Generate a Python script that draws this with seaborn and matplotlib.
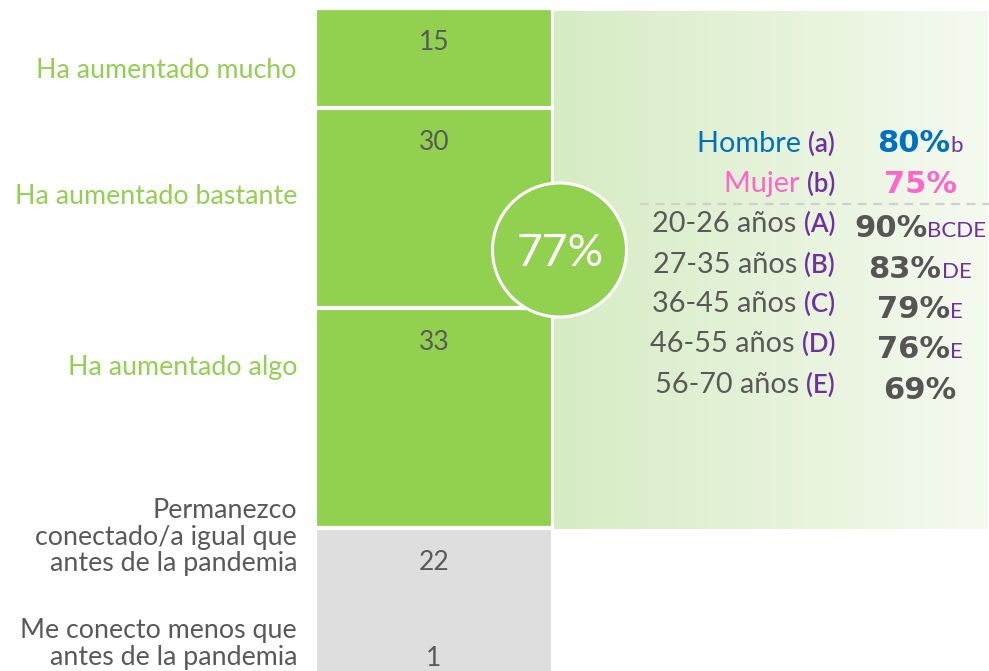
import numpy as np
import pandas as pd
import matplotlib
matplotlib.use("Agg")
import matplotlib.pyplot as plt
from matplotlib.patches import Circle
import seaborn as sns

# ---------------- data ----------------
categories = ["Ha aumentado mucho", "Ha aumentado bastante", "Ha aumentado algo",
              "Permanezco\nconectado/a igual que\nantes de la pandemia",
              "Me conecto menos que\nantes de la pandemia"]
values = [15, 30, 33, 22, 1]
total_increase = "77%"

group_labels = ["Hombre", "Mujer", "20-26 años", "27-35 años", "36-45 años", "46-55 años", "56-70 años"]
group_codes = ["(a)", "(b)", "(A)", "(B)", "(C)", "(D)", "(E)"]
group_pcts = ["80%", "75%", "90%", "83%", "79%", "76%", "69%"]
group_sig = ["b", "", "BCDE", "DE", "E", "E", ""]

# ---------------- style ----------------
sns.set_theme(style="white")
plt.rcParams['font.family'] = ['Lato', 'DejaVu Sans']

GREEN = "#92d050"
GREY_BAR = "#dedede"
GREY_TXT = "#595959"
PURPLE = "#7030a0"
BLUE = "#0070c0"
PINK = "#ff66cc"
seg_colors = [GREEN, GREEN, GREEN, GREY_BAR, GREY_BAR]
label_colors = [GREEN, GREEN, GREEN, GREY_TXT, GREY_TXT]

W, H = 989, 671
fig = plt.figure(figsize=(W / 100, H / 100), dpi=100)

# background axes (pixel coordinates) with gradient panel
bg = fig.add_axes([0, 0, 1, 1], zorder=0)
bg.set_xlim(0, W); bg.set_ylim(H, 0); bg.axis("off")
grad = np.linspace(0, 1, 256)[None, :, None]
c0 = np.array([214, 236, 196]) / 255
c1 = np.array([245, 250, 240]) / 255
img = c0 + (c1 - c0) * grad
bg.imshow(img, extent=[554, 988, 529, 11], aspect="auto", zorder=0)
bg.set_xlim(0, W); bg.set_ylim(H, 0)

# bar axes
top_px = 8
scale = 6.667  # pixels per unit
bx = fig.add_axes([315 / W, 0, 238 / W, 1], zorder=1)
bx.patch.set_alpha(0)
cum = np.cumsum(values)
df = pd.DataFrame({"cat": categories, "val": values, "end": cum})
for i in range(len(values) - 1, -1, -1):
    sns.barplot(x=["s"], y=[df["end"][i]], color=seg_colors[i], saturation=1,
                width=1, edgecolor="white", linewidth=3, ax=bx)
bx.set_xlim(-0.5, 0.5)
bx.set_ylim((H - top_px) / scale, -top_px / scale)
bx.axis("off")
starts = cum - np.array(values)
ymax_vis = (H - top_px) / scale
for i, v in enumerate(values):
    ly = starts[i] + 5.2
    if ly > ymax_vis - 1:
        ly = ymax_vis - 1.8
    bx.text(0, ly, str(v), ha="center", va="center", fontsize=19, color=GREY_TXT)

# overlay axes in pixel coordinates
ov = fig.add_axes([0, 0, 1, 1], zorder=2)
ov.patch.set_alpha(0)
ov.set_xlim(0, W); ov.set_ylim(H, 0); ov.axis("off")

# category labels
label_y = [71, 196, 367, 537, 644]
for lab, y, col in zip(categories, label_y, label_colors):
    ov.text(297, y, lab, ha="right", va="center", fontsize=19.3, color=col,
            linespacing=1.1)

# circle
ov.add_patch(Circle((559.5, 250), 67, facecolor=GREEN, edgecolor="white", lw=2.2, zorder=5))
ov.text(560, 253, total_increase, ha="center", va="center", fontsize=32,
        color="white", fontweight="normal", zorder=6)

# dashed separator
ov.plot([640, 989], [204, 204], ls=(0, (4, 3)), color="#d0d0d0", lw=1.6, zorder=3)

fig.canvas.draw()
renderer = fig.canvas.get_renderer()


def rich(x, y, parts, ha):
    texts, widths = [], []
    for s, kw in parts:
        if not s:
            continue
        t = ov.text(0, y, s, ha="left", va="baseline", zorder=6, **kw)
        widths.append(t.get_window_extent(renderer).width)
        texts.append(t)
    total = sum(widths)
    start = x - total if ha == "right" else (x - total / 2 if ha == "center" else x)
    for t, w in zip(texts, widths):
        t.set_x(start)
        start += w


label_base = [152, 192, 232, 273, 312, 352, 393]
pct_base = [152, 193, 237, 278, 318, 358, 399]
label_cols = [BLUE, PINK] + [GREY_TXT] * 5
pct_cols = [BLUE, PINK] + ["#555555"] * 5
for i in range(len(group_labels)):
    rich(835, label_base[i],
         [(group_labels[i] + " ", dict(fontsize=20.8, color=label_cols[i])),
          (group_codes[i], dict(fontsize=18.5, color=PURPLE, fontweight="semibold"))], "right")
    rich(920, pct_base[i],
         [(group_pcts[i], dict(fontsize=22, color=pct_cols[i], fontweight="bold",
                               family="DejaVu Sans")),
          (group_sig[i], dict(fontsize=16, color=PURPLE))], "center")

fig.savefig("out.png", dpi=100)
